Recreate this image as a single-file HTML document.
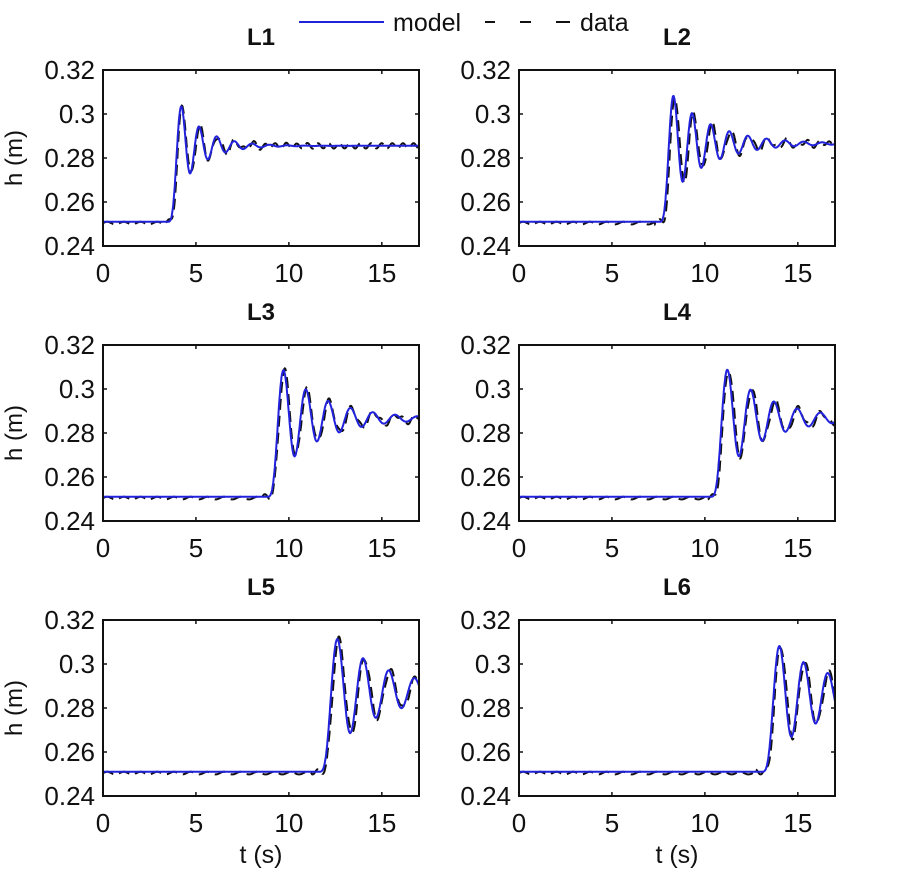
<!DOCTYPE html>
<html><head><meta charset="utf-8"><style>
html,body{margin:0;padding:0;background:#fff;}
svg{display:block;font-family:"Liberation Sans",Arial,sans-serif;}
</style></head><body>
<svg id="s" width="900" height="875" viewBox="0 0 900 875" xmlns="http://www.w3.org/2000/svg">
<rect width="900" height="875" fill="#fff"/>
<line x1="299" y1="22" x2="384" y2="22" stroke="#2222dd" stroke-width="2"/>
<text x="393" y="31" font-size="25" fill="#111">model</text>
<line x1="485" y1="22" x2="495" y2="22" stroke="#111" stroke-width="2"/>
<line x1="520" y1="22" x2="531" y2="22" stroke="#111" stroke-width="2"/>
<line x1="556" y1="22" x2="570" y2="22" stroke="#111" stroke-width="2"/>
<text x="580" y="31" font-size="25" fill="#111">data</text>
<g id="g"></g>
</svg>
<script>
var g=document.getElementById('g');var h='';
var panels=[
 {n:'L1',x:103,y:70,pk:4.2,T:0.95,a:0.75,hf:0.2855,ph:0.05,wd:0.5},
 {n:'L2',x:519,y:70,pk:8.3,T:1.0,a:0.45,hf:0.2865,ph:0.08,wd:0.5},
 {n:'L3',x:103,y:345,pk:9.7,T:1.2,a:0.42,hf:0.2865,ph:0.06,wd:0.55},
 {n:'L4',x:519,y:345,pk:11.2,T:1.25,a:0.42,hf:0.2865,ph:0.07,wd:0.55},
 {n:'L5',x:103,y:620,pk:12.6,T:1.38,a:0.33,hf:0.2875,ph:0.08,wd:0.6},
 {n:'L6',x:519,y:620,pk:14.0,T:1.3,a:0.3,hf:0.2855,ph:0.07,wd:0.6}];
var W=316,H=176;
function r(p,u){if(u<0)return 0;var w=2*Math.PI/p.T;return 1-Math.exp(-p.a*u)*(Math.cos(w*u)+(p.a/w)*Math.sin(w*u));}
function f(p,t,sh){var t0=p.pk-p.T/2+sh;var s=0,N=20;
 for(var k=0;k<N;k++){var q=(k+0.5)/N;var wt=Math.sin(Math.PI*q);s+=wt*r(p,t-t0+ (q-0.5)*p.wd*1.05)/ (N*2/Math.PI);}
 return 0.251+(p.hf-0.251)*s;}
panels.forEach(function(p,i){
 var X=function(t){return p.x+t*W/17},Y=function(v){return p.y+H-(v-0.24)/0.08*H};
 h+='<text x="'+(p.x+W/2)+'" y="'+(p.y-25)+'" font-size="24" font-weight="bold" text-anchor="middle" fill="#111">'+p.n+'</text>';
 var d='',m='';
 for(var t=0;t<=17.001;t+=0.02){var v=f(p,t,p.ph)+(t<p.pk-p.T?(-0.0006+0.0006*Math.sin(t*7)):0.0012*Math.sin(t*11));
  d+=(t==0?'M':'L')+X(t).toFixed(1)+','+Y(v).toFixed(1);
  var vm=f(p,t,0);m+=(t==0?'M':'L')+X(t).toFixed(1)+','+Y(vm).toFixed(1);}
 h+='<path d="'+d+'" fill="none" stroke="#111" stroke-width="2" stroke-dasharray="11,6"/>';
 h+='<path d="'+m+'" fill="none" stroke="#2222dd" stroke-width="2"/>';
 h+='<rect x="'+p.x+'" y="'+p.y+'" width="'+W+'" height="'+H+'" fill="none" stroke="#111" stroke-width="2"/>';
 [0,5,10,15].forEach(function(t){var x=X(t);
  h+='<line x1="'+x+'" y1="'+(p.y+H)+'" x2="'+x+'" y2="'+(p.y+H-4)+'" stroke="#111" stroke-width="1.5"/><line x1="'+x+'" y1="'+p.y+'" x2="'+x+'" y2="'+(p.y+4)+'" stroke="#111" stroke-width="1.5"/>';
  h+='<text x="'+x+'" y="'+(p.y+H+36)+'" font-size="26" text-anchor="middle" fill="#111">'+t+'</text>';});
 [['0.24',0.24],['0.26',0.26],['0.28',0.28],['0.3',0.30],['0.32',0.32]].forEach(function(l){var y=Y(l[1]);
  h+='<line x1="'+p.x+'" y1="'+y+'" x2="'+(p.x+4)+'" y2="'+y+'" stroke="#111" stroke-width="1.5"/><line x1="'+(p.x+W)+'" y1="'+y+'" x2="'+(p.x+W-4)+'" y2="'+y+'" stroke="#111" stroke-width="1.5"/>';
  h+='<text x="'+(p.x-8)+'" y="'+(y+9)+'" font-size="26" text-anchor="end" fill="#111">'+l[0]+'</text>';});
 if(p.x<300) h+='<text transform="translate(22,'+(p.y+H/2)+') rotate(-90)" font-size="24" text-anchor="middle" fill="#111">h (m)</text>';
 if(i>=4) h+='<text x="'+(p.x+W/2)+'" y="'+(p.y+H+67)+'" font-size="25" text-anchor="middle" fill="#111">t (s)</text>';
});
g.innerHTML=h;
</script>
</body></html>
